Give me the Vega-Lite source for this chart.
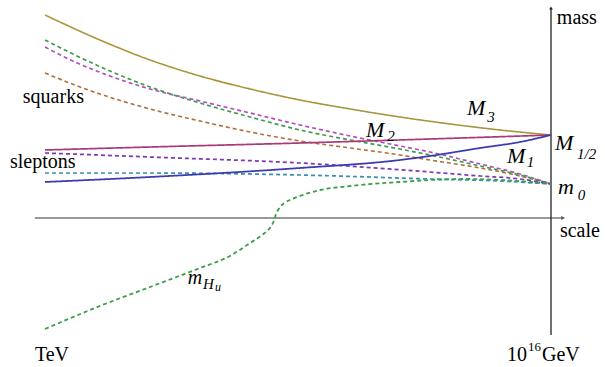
{
  "$schema": "https://vega.github.io/schema/vega-lite/v6.json",
  "width": 605,
  "height": 367,
  "padding": 0,
  "autosize": {"type": "none"},
  "config": {"view": {"stroke": null}, "font": "Liberation Serif", "text": {"font": "Liberation Serif"}},
  "data": {"values": [
    {"g":"roman","t":"mass","L":16.15,"m":200},
    {"g":"roman","t":"scale","L":16.23,"m":-13},
    {"g":"roman","t":"TeV","L":2.74,"m":-137},
    {"g":"roman","t":"squarks","L":2.43,"m":121},
    {"g":"roman","t":"sleptons","L":2.10,"m":56},
    {"g":"roman","t":"10","L":14.87,"m":-137},
    {"g":"roman","t":"GeV","L":15.77,"m":-137},
    {"g":"sup","t":"16","L":15.41,"m":-129},
    {"g":"bigM","t":"M","L":13.84,"m":109.6},
    {"g":"bigM","t":"M","L":11.25,"m":87.6},
    {"g":"bigM","t":"M","L":14.87,"m":61.6},
    {"g":"bigM","t":"M","L":16.10,"m":74.6},
    {"g":"bigM","t":"m","L":16.18,"m":30.6},
    {"g":"subs","t":"3","L":14.36,"m":101.5},
    {"g":"subs","t":"2","L":11.79,"m":82.5},
    {"g":"subs","t":"1","L":15.38,"m":56.5},
    {"g":"subs","t":"1/2","L":16.67,"m":64.5},
    {"g":"subs","t":"0","L":16.69,"m":23.5},
    {"g":"mh","t":"m","L":6.67,"m":-60},
    {"g":"mhH","t":"H","L":7.06,"m":-65.5},
    {"g":"mhu","t":"u","L":7.37,"m":-69.4}
  ]},
  "datasets": {
    "curves": [
      {"s":"M3","L":3.00,"m":203},{"s":"M3","L":4.41,"m":178},{"s":"M3","L":5.70,"m":158},{"s":"M3","L":6.98,"m":142},{"s":"M3","L":8.27,"m":129},{"s":"M3","L":9.55,"m":118},{"s":"M3","L":10.84,"m":109},{"s":"M3","L":12.12,"m":101},{"s":"M3","L":13.41,"m":94},{"s":"M3","L":14.69,"m":88},{"s":"M3","L":16.00,"m":83},
      {"s":"sq_brown","L":3.00,"m":145},{"s":"sq_brown","L":3.90,"m":131},{"s":"sq_brown","L":4.41,"m":124},{"s":"sq_brown","L":5.70,"m":109},{"s":"sq_brown","L":6.98,"m":97},{"s":"sq_brown","L":8.27,"m":86},{"s":"sq_brown","L":9.55,"m":77},{"s":"sq_brown","L":10.84,"m":70},{"s":"sq_brown","L":12.12,"m":63},{"s":"sq_brown","L":12.89,"m":58},{"s":"sq_brown","L":14.18,"m":50},{"s":"sq_brown","L":15.20,"m":42},{"s":"sq_brown","L":16.00,"m":34},
      {"s":"sq_magenta","L":3.00,"m":171},{"s":"sq_magenta","L":3.77,"m":156},{"s":"sq_magenta","L":4.67,"m":142},{"s":"sq_magenta","L":5.70,"m":129},{"s":"sq_magenta","L":6.98,"m":117},{"s":"sq_magenta","L":8.27,"m":105},{"s":"sq_magenta","L":9.55,"m":93},{"s":"sq_magenta","L":10.84,"m":82},{"s":"sq_magenta","L":12.12,"m":72},{"s":"sq_magenta","L":12.89,"m":66},{"s":"sq_magenta","L":14.18,"m":54},{"s":"sq_magenta","L":15.20,"m":44},{"s":"sq_magenta","L":16.00,"m":34},
      {"s":"sq_green","L":3.00,"m":178},{"s":"sq_green","L":3.77,"m":163},{"s":"sq_green","L":4.67,"m":147},{"s":"sq_green","L":5.70,"m":131},{"s":"sq_green","L":6.98,"m":115},{"s":"sq_green","L":8.27,"m":101},{"s":"sq_green","L":9.55,"m":88},{"s":"sq_green","L":10.84,"m":78},{"s":"sq_green","L":12.12,"m":69},{"s":"sq_green","L":12.89,"m":63},{"s":"sq_green","L":14.18,"m":52},{"s":"sq_green","L":15.20,"m":43},{"s":"sq_green","L":16.00,"m":34},
      {"s":"M2","L":3.00,"m":68},{"s":"M2","L":5.70,"m":71},{"s":"M2","L":9.55,"m":75},{"s":"M2","L":12.89,"m":79},{"s":"M2","L":16.00,"m":83},
      {"s":"sl_teal","L":3.00,"m":45},{"s":"sl_teal","L":5.70,"m":45},{"s":"sl_teal","L":9.55,"m":43},{"s":"sl_teal","L":12.89,"m":39},{"s":"sl_teal","L":14.69,"m":37},{"s":"sl_teal","L":16.00,"m":34},
      {"s":"sl_purple","L":3.00,"m":65},{"s":"sl_purple","L":5.70,"m":61},{"s":"sl_purple","L":9.55,"m":55},{"s":"sl_purple","L":12.89,"m":46},{"s":"sl_purple","L":14.18,"m":42},{"s":"sl_purple","L":15.20,"m":39},{"s":"sl_purple","L":16.00,"m":34},
      {"s":"M1","L":3.00,"m":36},{"s":"M1","L":5.70,"m":41},{"s":"M1","L":9.55,"m":50},{"s":"M1","L":12.12,"m":58},{"s":"M1","L":12.89,"m":62},{"s":"M1","L":14.18,"m":70},{"s":"M1","L":15.20,"m":76},{"s":"M1","L":16.00,"m":83},
      {"s":"mHu","L":3.00,"m":-111},{"s":"mHu","L":4.41,"m":-88},{"s":"mHu","L":5.70,"m":-69},{"s":"mHu","L":6.98,"m":-50},{"s":"mHu","L":7.75,"m":-38},{"s":"mHu","L":8.27,"m":-25},{"s":"mHu","L":8.58,"m":-17},{"s":"mHu","L":8.73,"m":-12},{"s":"mHu","L":8.83,"m":-7},{"s":"mHu","L":8.88,"m":-3},{"s":"mHu","L":8.91,"m":0},{"s":"mHu","L":8.93,"m":4},{"s":"mHu","L":8.99,"m":8},{"s":"mHu","L":9.06,"m":12},{"s":"mHu","L":9.19,"m":16},{"s":"mHu","L":9.35,"m":19},{"s":"mHu","L":9.55,"m":22},{"s":"mHu","L":10.07,"m":28},{"s":"mHu","L":10.84,"m":32},{"s":"mHu","L":12.12,"m":36},{"s":"mHu","L":12.89,"m":38},{"s":"mHu","L":13.84,"m":39},{"s":"mHu","L":14.69,"m":38},{"s":"mHu","L":15.46,"m":36},{"s":"mHu","L":16.00,"m":34}
    ],
    "hAxis": [{"L":2.74,"L2":16.31,"m":0}],
    "vAxis": [{"L":16.0,"m":210,"m2":-117}],
    "arrowR": [{"L":16.31,"m":0}],
    "arrowU": [{"L":16.0,"m":210}]
  },
  "encoding": {
    "x": {"field": "L", "type": "quantitative", "axis": null, "scale": {"domain": [1.8439, 17.3874], "nice": false, "zero": false}},
    "y": {"field": "m", "type": "quantitative", "axis": null, "scale": {"domain": [-149, 218], "nice": false, "zero": false}}
  },
  "layer": [
    {
      "data": {"name": "hAxis"},
      "mark": {"type": "rule", "color": "#777777", "strokeWidth": 1.6},
      "encoding": {"x2": {"field": "L2"}}
    },
    {
      "data": {"name": "vAxis"},
      "mark": {"type": "rule", "color": "#222222", "strokeWidth": 1.3},
      "encoding": {"y2": {"field": "m2"}}
    },
    {
      "data": {"name": "arrowR"},
      "mark": {"type": "point", "shape": "triangle-right", "filled": true, "size": 18, "color": "#555555", "opacity": 1}
    },
    {
      "data": {"name": "arrowU"},
      "mark": {"type": "point", "shape": "triangle-up", "filled": true, "size": 14, "color": "#222222", "opacity": 1}
    },
    {
      "data": {"name": "curves"},
      "mark": {"type": "line", "interpolate": "monotone"},
      "encoding": {
        "color": {"field": "s", "type": "nominal", "legend": null,
          "scale": {"domain": ["M3","sq_brown","sq_magenta","sq_green","M2","sl_teal","sl_purple","M1","mHu"],
                    "range": ["#a8963c","#b0713c","#b24cc0","#3e9e48","#a83a78","#3a8fb2","#7a3cb2","#3c3cb2","#3e9e48"]}},
        "strokeDash": {"field": "s", "type": "nominal", "legend": null,
          "scale": {"domain": ["M3","sq_brown","sq_magenta","sq_green","M2","sl_teal","sl_purple","M1","mHu"],
                    "range": [[1,0],[4,3],[4,3],[4,3],[1,0],[4,3],[4,3],[1,0],[4,3]]}},
        "strokeWidth": {"field": "s", "type": "nominal", "legend": null,
          "scale": {"domain": ["M3","sq_brown","sq_magenta","sq_green","M2","sl_teal","sl_purple","M1","mHu"],
                    "range": [1.6,1.8,1.8,1.8,1.6,1.8,2.6,1.6,1.8]}},
        "order": {"field": "L", "type": "quantitative"}
      }
    },
    {
      "transform": [{"filter": "datum.g=='roman'"}],
      "mark": {"type": "text", "font": "Liberation Serif", "fontSize": 20, "align": "left"},
      "encoding": {"text": {"field": "t"}}
    },
    {
      "transform": [{"filter": "datum.g=='sup'"}],
      "mark": {"type": "text", "font": "Liberation Serif", "fontSize": 13, "align": "left"},
      "encoding": {"text": {"field": "t"}}
    },
    {
      "transform": [{"filter": "datum.g=='bigM'"}],
      "mark": {"type": "text", "font": "Liberation Serif", "fontStyle": "italic", "fontSize": 22, "align": "left"},
      "encoding": {"text": {"field": "t"}}
    },
    {
      "transform": [{"filter": "datum.g=='subs'"}],
      "mark": {"type": "text", "font": "Liberation Serif", "fontStyle": "italic", "fontSize": 15, "align": "left"},
      "encoding": {"text": {"field": "t"}}
    },
    {
      "transform": [{"filter": "datum.g=='mh'"}],
      "mark": {"type": "text", "font": "Liberation Serif", "fontStyle": "italic", "fontSize": 20, "align": "left"},
      "encoding": {"text": {"field": "t"}}
    },
    {
      "transform": [{"filter": "datum.g=='mhH'"}],
      "mark": {"type": "text", "font": "Liberation Serif", "fontStyle": "italic", "fontSize": 15, "align": "left"},
      "encoding": {"text": {"field": "t"}}
    },
    {
      "transform": [{"filter": "datum.g=='mhu'"}],
      "mark": {"type": "text", "font": "Liberation Serif", "fontStyle": "italic", "fontSize": 12, "align": "left"},
      "encoding": {"text": {"field": "t"}}
    }
  ]
}
